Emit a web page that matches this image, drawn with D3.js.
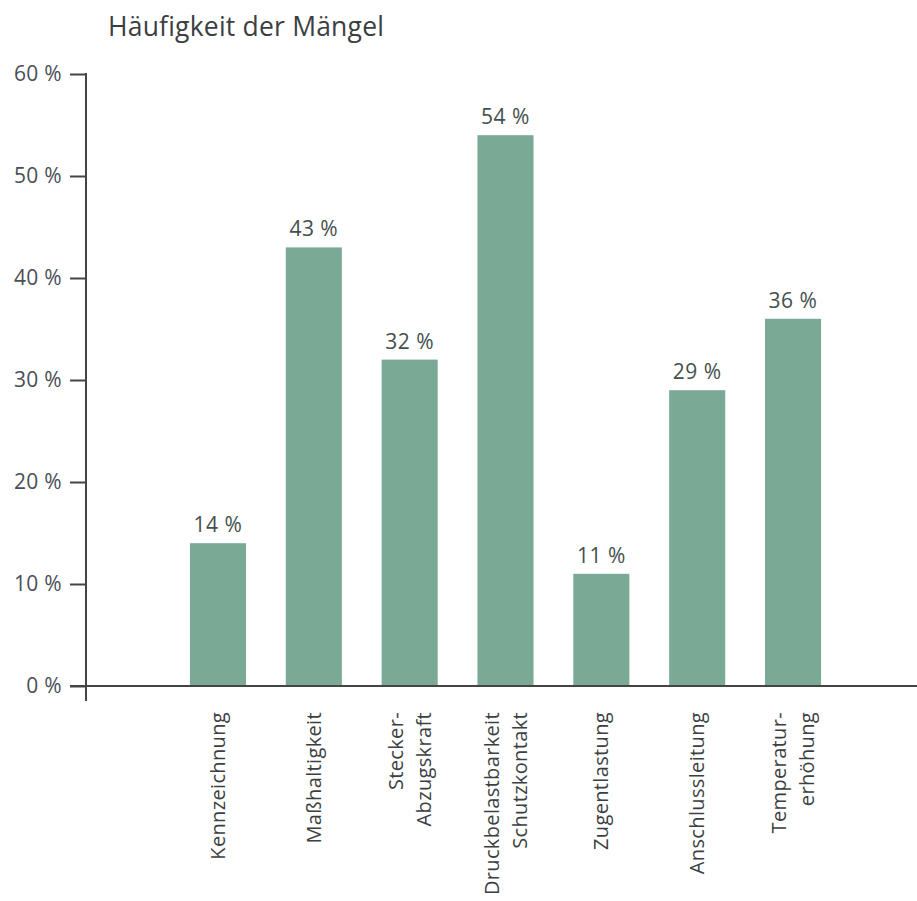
<!DOCTYPE html>
<html>
<head>
<meta charset="utf-8">
<script src="https://cdn.jsdelivr.net/npm/d3@7"></script>
<style>
  body { margin: 0; background: #fff; }
  svg text { font-family: "Open Sans", sans-serif; }
</style>
</head>
<body>
<svg id="chart" width="917" height="901"></svg>
<script>
// Chart data
const categories = [
    ["Kennzeichnung"],
    ["Maßhaltigkeit"],
    ["Stecker-", "Abzugskraft"],
    ["Druckbelastbarkeit", "Schutzkontakt"],
    ["Zugentlastung"],
    ["Anschlussleitung"],
    ["Temperatur-", "erhöhung"]
];
const values = [14, 43, 32, 54, 11, 29, 36];
const yTicks = [0, 10, 20, 30, 40, 50, 60];

const svg = d3.select("#chart");
const barColor = "#7aa996";
const textColor = "#3b3f42";

const x = d3.scaleBand()
    .domain(d3.range(categories.length))
    .range([142, 869])
    .paddingInner(0.415)
    .paddingOuter(0.5);

const y = d3.scaleLinear()
    .domain([0, 60])
    .range([686, 74]);

// Title
svg.append("text")
    .attr("x", 108)
    .attr("y", 36)
    .attr("fill", textColor)
    .attr("font-size", "26.5px")
    .attr("letter-spacing", "0.2px")
    .text("Häufigkeit der Mängel");

// Bars
svg.append("g")
    .selectAll("rect")
    .data(values)
    .join("rect")
    .attr("x", (d, i) => x(i))
    .attr("y", d => y(d))
    .attr("width", x.bandwidth())
    .attr("height", d => y(0) - y(d))
    .attr("fill", barColor);

// Value labels
svg.append("g")
    .selectAll("text")
    .data(values)
    .join("text")
    .attr("x", (d, i) => x(i) + x.bandwidth() / 2)
    .attr("y", d => y(d) - 11)
    .attr("text-anchor", "middle")
    .attr("fill", "#44504d")
    .attr("font-size", "21px")
    .attr("letter-spacing", "0.5px")
    .text(d => d + " %");

// Y axis
const yAxis = d3.axisLeft(y)
    .tickValues(yTicks)
    .tickSize(16)
    .tickPadding(8)
    .tickFormat(d => d + " %");

const yg = svg.append("g")
    .attr("transform", "translate(86,0)")
    .call(yAxis);
yg.select(".domain").remove();
yg.selectAll(".tick line").attr("stroke", "#444").attr("stroke-width", 2);
yg.selectAll(".tick text")
    .attr("fill", "#4a4f55")
    .attr("font-size", "21px")
    .attr("letter-spacing", "0.3px")
    .attr("font-family", "Open Sans, sans-serif");

// axis lines
svg.append("line")
    .attr("x1", 86).attr("x2", 86)
    .attr("y1", y(60) - 1).attr("y2", 701)
    .attr("stroke", "#444").attr("stroke-width", 2);
svg.append("line")
    .attr("x1", 70).attr("x2", 917)
    .attr("y1", y(0)).attr("y2", y(0))
    .attr("stroke", "#444").attr("stroke-width", 2);

// Category labels (rotated)
const lineGap = 28;
const labels = svg.append("g")
    .selectAll("g")
    .data(categories)
    .join("g")
    .attr("transform", (d, i) => `translate(${x(i) + x.bandwidth() / 2},712) rotate(-90)`);

labels.each(function(lines) {
    const g = d3.select(this);
    lines.forEach((t, k) => {
        g.append("text")
            .attr("x", 0)
            .attr("y", (k - (lines.length - 1) / 2) * lineGap)
            .attr("dy", "0.35em")
            .attr("text-anchor", "end")
            .attr("fill", textColor)
            .attr("font-size", "20px")
            .attr("letter-spacing", "0.35px")
            .text(t);
    });
});
</script>
</body>
</html>
